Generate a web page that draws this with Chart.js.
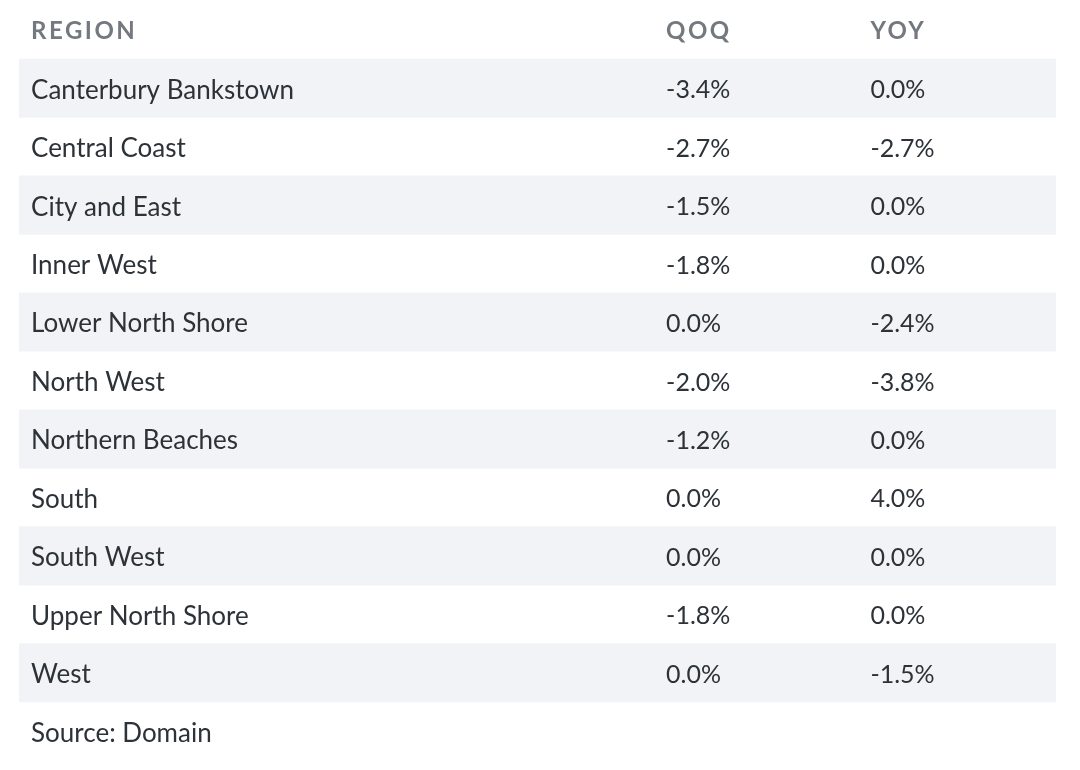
<!DOCTYPE html>
<html>
<head>
<meta charset="utf-8">
<script src="https://cdn.jsdelivr.net/npm/chart.js@4.4.1/dist/chart.umd.min.js"></script>
<style>
  body { margin: 0; background: #fff; }
  #wrap { width: 1080px; height: 770px; position: relative; }
</style>
</head>
<body>
<div id="wrap"><canvas id="chart"></canvas></div>
<script>
// table data
const regions = ["Canterbury Bankstown", "Central Coast", "City and East", "Inner West", "Lower North Shore",
    "North West", "Northern Beaches", "South", "South West", "Upper North Shore", "West"];
const qoq = [-3.4, -2.7, -1.5, -1.8, 0.0, -2.0, -1.2, 0.0, 0.0, -1.8, 0.0];
const yoy = [0.0, -2.7, 0.0, 0.0, -2.4, -3.8, 0.0, 4.0, 0.0, 0.0, -1.5];
const headers = ["REGION", "QOQ", "YOY"];
const source = "Source: Domain";

// rows on the y axis: header, regions, source line
const rows = [headers[0]].concat(regions, [source]);
// shaded stripe on every other region row
const stripes = rows.map((r, i) => (i >= 1 && i <= regions.length && i % 2 === 1) ? 1 : null);

const FONT = "Lato, 'Open Sans', sans-serif";
const TEXT = "#2c3238";
const HEAD = "#74797f";
const colX = [0.0116, 0.624, 0.821]; // column left edges on the x scale
const DY = 2; // Lato sits a little high with a middle baseline

const fmt = v => v.toFixed(1) + "%";

const tableText = {
    id: "tableText",
    afterDatasetsDraw(chart) {
        const c = chart.ctx;
        const x = chart.scales.x, y = chart.scales.y;
        const cols = colX.map(v => x.getPixelForValue(v));
        c.save();
        c.textBaseline = "middle";
        c.textAlign = "left";
        // header row
        c.font = "bold 24px " + FONT;
        c.fillStyle = HEAD;
        c.letterSpacing = "2.5px";
        const hy = y.getPixelForValue(0) + DY;
        headers.forEach((h, j) => c.fillText(h, cols[j], hy));
        c.letterSpacing = "0px";
        // body rows
        c.fillStyle = TEXT;
        regions.forEach((r, i) => {
            const py = y.getPixelForValue(i + 1) + DY;
            c.font = "26px " + FONT;
            c.fillText(r, cols[0], py);
            c.font = "25px " + FONT;
            c.fillText(fmt(qoq[i]), cols[1], py);
            c.fillText(fmt(yoy[i]), cols[2], py);
        });
        // source line
        c.font = "26px " + FONT;
        c.fillText(source, cols[0], y.getPixelForValue(rows.length - 1) + DY);
        c.restore();
    }
};

new Chart(document.getElementById("chart"), {
    type: "bar",
    data: {
        labels: rows,
        datasets: [{
            data: stripes,
            backgroundColor: "#f1f3f6",
            barPercentage: 1,
            categoryPercentage: 1,
            borderWidth: 0
        }]
    },
    options: {
        indexAxis: "y",
        responsive: true,
        maintainAspectRatio: false,
        animation: false,
        layout: { padding: { top: 0.5, bottom: 9.5, left: 19, right: 24 } },
        plugins: { legend: { display: false }, tooltip: { enabled: false } },
        scales: {
            x: { display: false, min: 0, max: 1 },
            y: { display: false }
        }
    },
    plugins: [tableText]
});
</script>
</body>
</html>
